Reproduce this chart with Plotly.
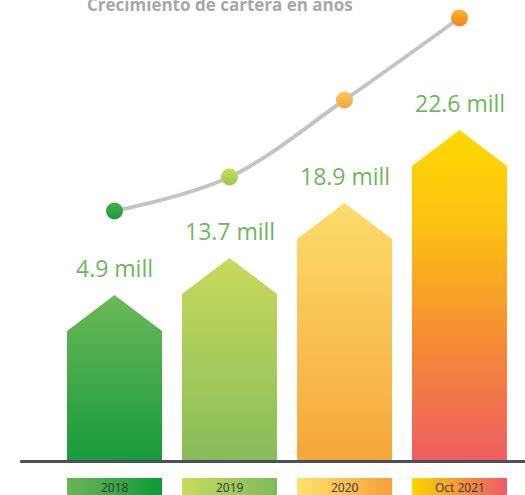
import plotly.graph_objects as go

# ---- data ----
categories = ["2018", "2019", "2020", "Oct 2021"]
values = [4.9, 13.7, 18.9, 22.6]            # cartera, millones
value_labels = ["4.9 mill", "13.7 mill", "18.9 mill", "22.6 mill"]
bar_levels = [165, 202, 257, 330]            # visual arrow height (chart units)
trend_levels = [249, 283, 360, 442]          # growth-curve point levels (chart units)
title_text = "Crecimiento de cartera en años"

# ---- styles ----
bar_scales = [
    [[0, "#179b3c"], [1, "#6cb858"]],
    [[0, "#86bd5a"], [1, "#c9d95c"]],
    [[0, "#f7a63a"], [1, "#fcdc6c"]],
    [[0, "#ef5d62"], [0.35, "#f58a35"], [0.72, "#fcc212"], [1, "#ffd900"]],
]
box_scales = [
    [[0, "#6ab657"], [1, "#0c9a3a"]],
    [[0, "#c9dc5c"], [1, "#7cbb5a"]],
    [[0, "#fde36c"], [1, "#f79f3a"]],
    [[0, "#ffd500"], [1, "#ee5a68"]],
]
marker_top = ["#4cad4a", "#c6dc5c", "#fdc75c", "#fbb52a"]
marker_bottom = ["#189a3c", "#9cc84a", "#f7a53a", "#f3802a"]
label_color = "#6cb85c"
half_w = 0.413      # half bar width in category units
head = 36           # arrow-head height in chart units

fig = go.Figure()
xs = list(range(len(categories)))

for i, (cat, lvl) in enumerate(zip(categories, bar_levels)):
    fig.add_trace(go.Scatter(
        x=[i - half_w, i - half_w, i, i + half_w, i + half_w, i - half_w],
        y=[0, lvl - head, lvl, lvl - head, 0, 0],
        mode="lines", fill="toself", line=dict(width=0),
        fillgradient=dict(type="vertical", colorscale=bar_scales[i]),
        hoverinfo="skip", showlegend=False,
    ))
    # category box below the axis
    fig.add_trace(go.Scatter(
        x=[i - half_w, i + half_w, i + half_w, i - half_w, i - half_w],
        y=[-18, -18, -45, -45, -18],
        mode="lines", fill="toself", line=dict(width=0),
        fillgradient=dict(type="horizontal", colorscale=box_scales[i]),
        hoverinfo="skip", showlegend=False,
    ))
    fig.add_annotation(x=i, y=-27, text=cat, showarrow=False,
                       font=dict(family="Open Sans", size=12, color="#333333"),
                       xanchor="center", yanchor="middle")
    fig.add_annotation(x=i, y=lvl, text=value_labels[i], showarrow=False,
                       font=dict(family="Open Sans", size=23, color=label_color),
                       xanchor="center", yanchor="middle", yshift=27)

# growth curve
fig.add_trace(go.Scatter(
    x=xs, y=trend_levels, mode="lines",
    line=dict(color="#c4c4c4", width=4, shape="spline", smoothing=1.0),
    hoverinfo="skip", showlegend=False,
))
fig.add_trace(go.Scatter(
    x=xs, y=trend_levels, mode="markers",
    marker=dict(size=17, color=marker_top, line=dict(width=0),
                gradient=dict(type="vertical", color=marker_bottom)),
    hoverinfo="skip", showlegend=False,
))

# baseline
fig.add_shape(type="line", x0=-0.82, x1=3.6, y0=-1.5, y1=-1.5,
              line=dict(color="#4b4e5c", width=3))

# title (cut at the top as in the original)
fig.add_annotation(x=0.92, y=456, text="<b>" + title_text + "</b>", showarrow=False,
                   font=dict(family="Open Sans", size=17, color="#a6a8ab"),
                   xanchor="center", yanchor="middle")

fig.update_layout(
    width=525, height=495,
    margin=dict(l=0, r=0, t=0, b=0),
    paper_bgcolor="white", plot_bgcolor="white",
    xaxis=dict(range=[-0.9957, 3.5696], visible=False, fixedrange=True),
    yaxis=dict(range=[-35, 460], visible=False, fixedrange=True),
    showlegend=False,
)

fig.write_html("out.html",
               config={"displayModeBar": False, "staticPlot": True},
               post_script="document.body.style.margin='0';document.body.style.overflow='hidden';")
